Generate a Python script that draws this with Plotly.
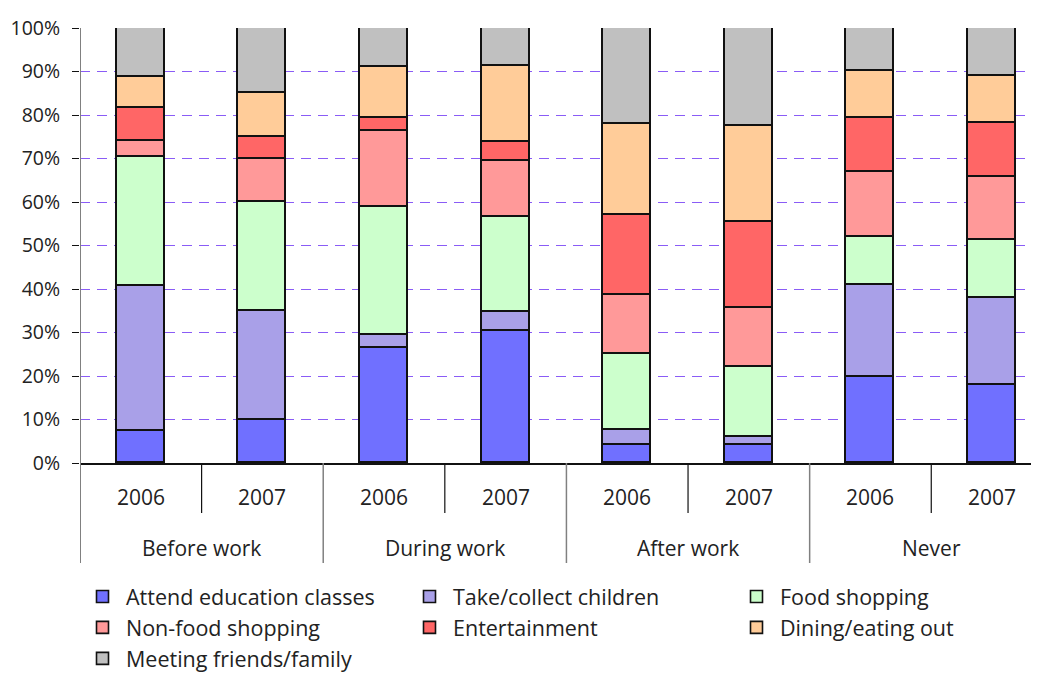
import plotly.graph_objects as go

groups = ["Before work", "During work", "After work", "Never"]
years = ["2006", "2007"]
series_names = ["Attend education classes", "Take/collect children", "Food shopping",
                "Non-food shopping", "Entertainment", "Dining/eating out", "Meeting friends/family"]
colors = ["#7070FF", "#A9A0E8", "#CCFFCC", "#FF9999", "#FF6666", "#FFCC99", "#C0C0C0"]

# values per bar in order: BW06, BW07, DW06, DW07, AW06, AW07, N06, N07
attend   = [7.4, 10.0, 26.5, 30.4, 4.2, 4.2, 19.7, 18.0]
children = [33.3, 25.0, 2.9, 4.3, 3.5, 1.8, 21.2, 20.0]
food     = [29.6, 25.0, 29.4, 21.8, 17.4, 16.0, 11.1, 13.2]
nonfood  = [3.8, 10.0, 17.6, 13.0, 13.5, 13.7, 14.8, 14.6]
entert   = [7.4, 5.0, 3.0, 4.3, 18.5, 19.7, 12.5, 12.4]
dining   = [7.3, 10.0, 11.7, 17.4, 20.9, 22.0, 10.8, 10.8]
friends  = [11.2, 15.0, 8.9, 8.8, 22.0, 22.6, 9.9, 11.0]
values = [attend, children, food, nonfood, entert, dining, friends]

FONT = "Open Sans"
FS = 21
TXT = "#222222"
n = len(groups) * len(years)
xs = list(range(n))

fig = go.Figure()
for name, col, vals in zip(series_names, colors, values):
    fig.add_trace(go.Bar(
        x=xs, y=vals, name=name, width=0.395,
        marker=dict(color=col, line=dict(color="#111111", width=1.6)),
    ))

plot_h = 435.0
plot_w = 959.0
def py(px_below):
    return -px_below / plot_h

annotations = []
shapes = []
for gi, g in enumerate(groups):
    for yi, yr in enumerate(years):
        xi = gi * len(years) + yi
        annotations.append(dict(x=xi, y=py(34), xref="x", yref="paper", text=yr,
                                showarrow=False, font=dict(size=FS, color=TXT, family=FONT),
                                xanchor="center", yanchor="middle"))
    annotations.append(dict(x=gi * 2 + 0.5, y=py(85), xref="x", yref="paper", text=g,
                            showarrow=False, font=dict(size=FS, color=TXT, family=FONT),
                            xanchor="center", yanchor="middle"))
    # year separator inside group
    shapes.append(dict(type="line", xref="x", yref="paper", x0=gi * 2 + 0.5, x1=gi * 2 + 0.5,
                       y0=0, y1=py(50), line=dict(color="#111111", width=1.2)))
    # group divider on left side
    shapes.append(dict(type="line", xref="x", yref="paper", x0=gi * 2 - 0.5, x1=gi * 2 - 0.5,
                       y0=1 if gi == 0 else 0, y1=py(100),
                       line=dict(color="#808080", width=2 if gi == 0 else 1.5)))

# the page body adds an 8px offset, so the figure is sized to fill the rest of the window
fig.update_layout(
    width=1031, height=665,
    margin=dict(l=72, r=0, t=20, b=210, autoexpand=False),
    paper_bgcolor="white", plot_bgcolor="white",
    barmode="stack", bargap=0,
    font=dict(family=FONT, size=FS, color=TXT),
    xaxis=dict(range=[-0.5, 7.386], showticklabels=False, showgrid=False, zeroline=False,
               showline=True, linecolor="#111111", linewidth=1.5, ticks=""),
    yaxis=dict(range=[0, 100], dtick=10, ticksuffix="%", ticks="outside", ticklen=7,
               tickcolor="#111111", tickwidth=1.2, showgrid=True, gridcolor="#8A5CF6",
               griddash="10px,7px", gridwidth=1, zeroline=False, showline=False,
               ticklabelstandoff=8,
               tickfont=dict(size=19.5, color=TXT, family=FONT)),
    legend=dict(orientation="h", x=-1.0 / plot_w, xanchor="left", y=py(113), yanchor="top",
                traceorder="normal", entrywidth=275, entrywidthmode="pixels",
                font=dict(size=21.5, color=TXT, family=FONT), itemwidth=37),
    annotations=annotations,
    shapes=shapes,
)

fig.write_html("out.html")
